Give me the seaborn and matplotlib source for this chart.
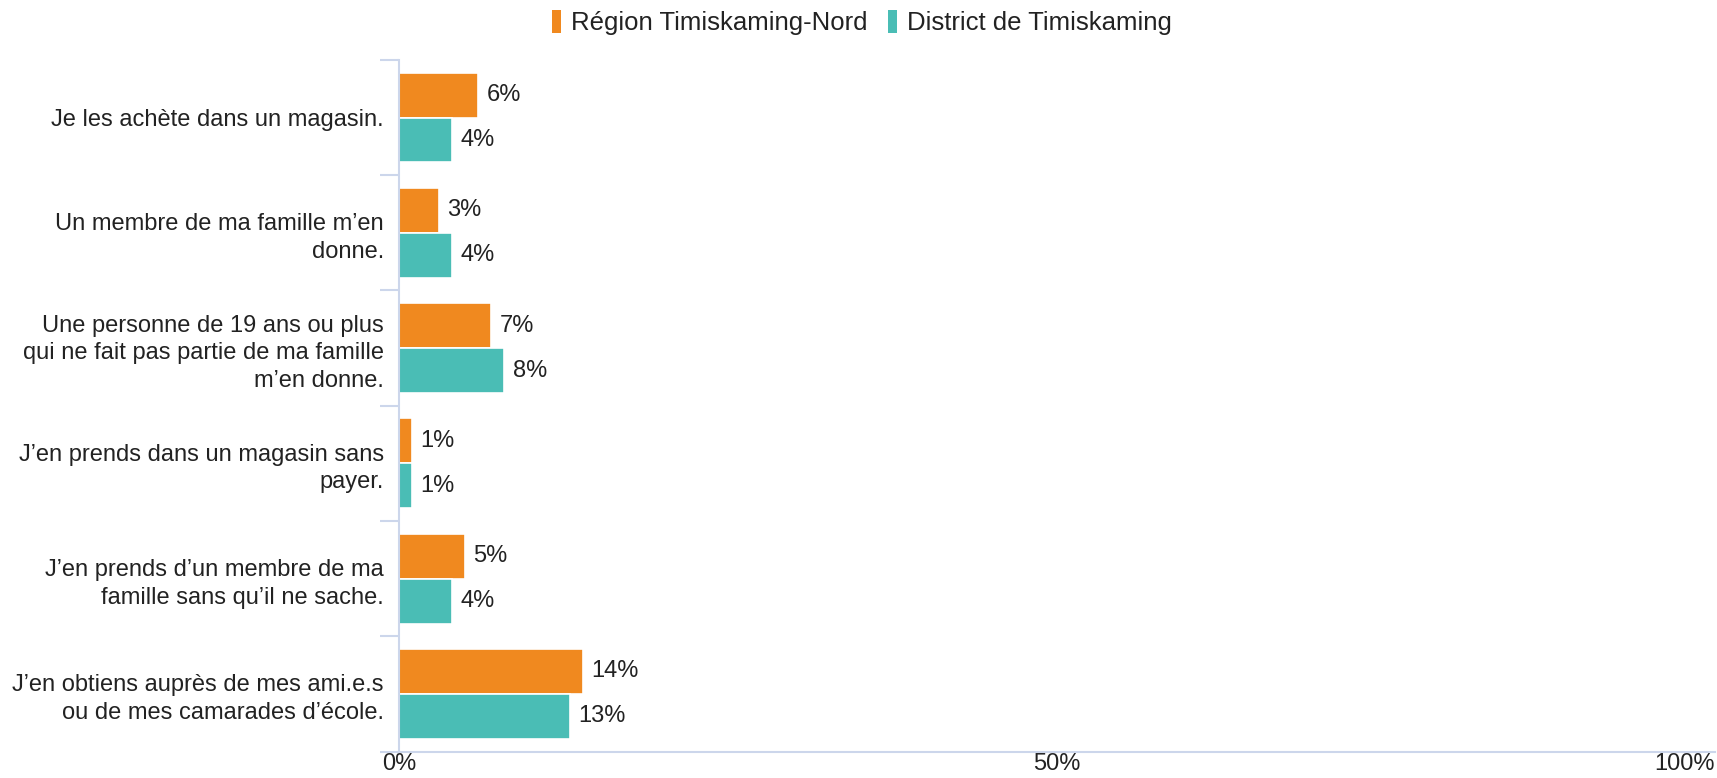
import matplotlib
matplotlib.use("Agg")
import matplotlib.pyplot as plt
import seaborn as sns
import pandas as pd
from matplotlib.patches import Patch

sns.set_theme(style="white")
plt.rcParams['font.family'] = ['Liberation Sans', 'DejaVu Sans']

categories = [
    "Je les achète dans un magasin.",
    "Un membre de ma famille m’en\ndonne.",
    "Une personne de 19 ans ou plus\nqui ne fait pas partie de ma famille\nm’en donne.",
    "J’en prends dans un magasin sans\npayer.",
    "J’en prends d’un membre de ma\nfamille sans qu’il ne sache.",
    "J’en obtiens auprès de mes ami.e.s\nou de mes camarades d’école.",
]
series_names = ["Région Timiskaming-Nord", "District de Timiskaming"]
region_nord = [6, 3, 7, 1, 5, 14]
district = [4, 4, 8, 1, 4, 13]
x_ticks = [0, 50, 100]
x_tick_labels = ["0%", "50%", "100%"]

colors = ["#F0891F", "#4ABDB5"]
axis_color = "#ccd6eb"
text_color = "#222222"

df = pd.DataFrame({
    "categorie": categories * 2,
    "serie": [series_names[0]] * len(categories) + [series_names[1]] * len(categories),
    "valeur": region_nord + district,
})

fig = plt.figure(figsize=(17.17, 7.78), dpi=100)
ax = fig.add_axes([0.2324, 0.034, 0.7664, 0.889])

sns.barplot(data=df, y="categorie", x="valeur", hue="serie", order=categories,
            hue_order=series_names, palette=colors, saturation=1, orient="h", width=0.78,
            edgecolor="white", linewidth=1.2, ax=ax, legend=False)

for cont in ax.containers:
    ax.bar_label(cont, fmt="%d%%", padding=6, fontsize=17, color=text_color)

ax.set_xlim(0, 100)
ax.set_ylim(len(categories) - 0.5, -0.5)
ax.set_xlabel("")
ax.set_ylabel("")

ax.set_xticks(x_ticks)
ax.set_xticklabels(x_tick_labels, fontsize=17, color=text_color)
ax.get_xticklabels()[-1].set_horizontalalignment("right")
ax.tick_params(axis="x", length=0, pad=1)

ax.set_yticks(range(len(categories)))
ax.set_yticklabels(categories, fontsize=17, color=text_color, linespacing=1.32)
ax.tick_params(axis="y", which="major", length=0, pad=11)
ax.set_yticks([i - 0.5 for i in range(len(categories) + 1)], minor=True)
ax.tick_params(axis="y", which="minor", length=14, width=1.5, color=axis_color, left=True)

for side in ["top", "right"]:
    ax.spines[side].set_visible(False)
for side in ["left", "bottom"]:
    ax.spines[side].set_color(axis_color)
    ax.spines[side].set_linewidth(1.5)
ax.grid(False)

handles = [Patch(facecolor=c, edgecolor="none") for c in colors]
fig.legend(handles, series_names, loc="center", bbox_to_anchor=(0.502, 0.971),
           ncol=2, frameon=False, fontsize=18.5, handlelength=0.35, handleheight=1.0,
           handletextpad=0.4, columnspacing=0.8, labelcolor=text_color)

fig.savefig("out.png", dpi=100)
plt.close(fig)
